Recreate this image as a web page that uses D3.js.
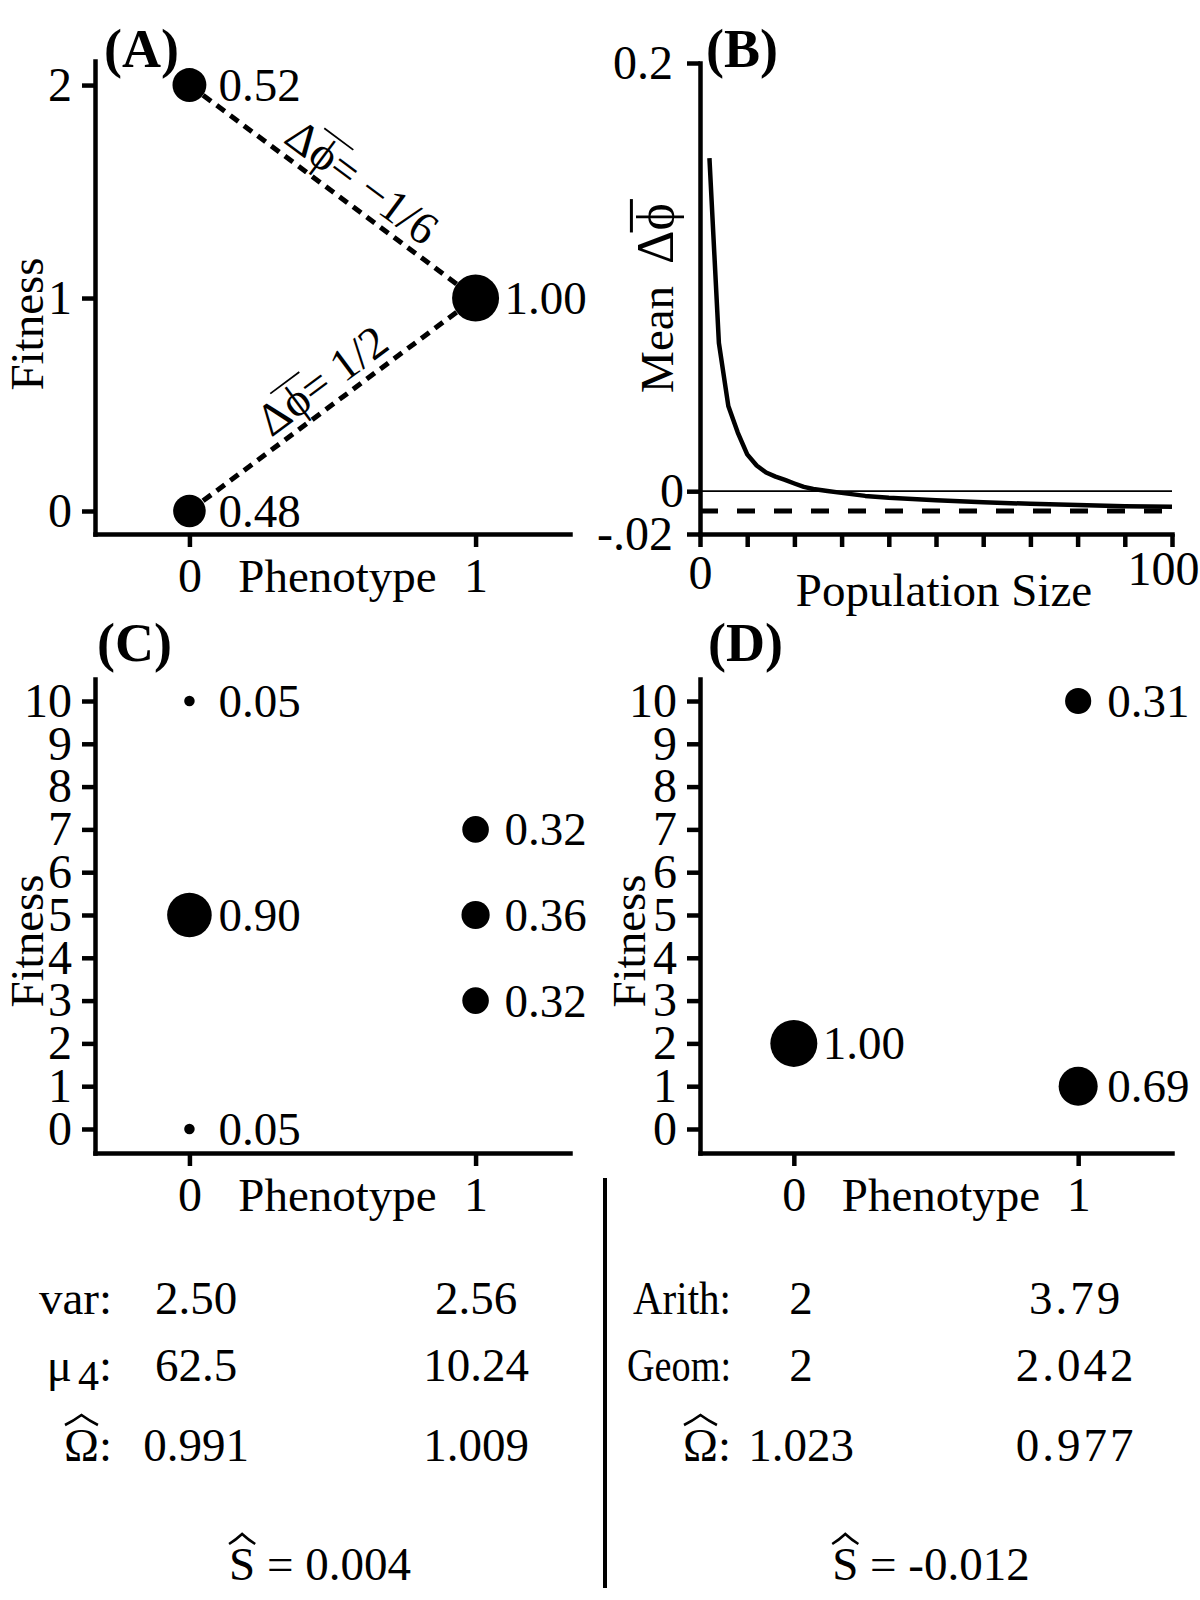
<!DOCTYPE html>
<html><head><meta charset="utf-8">
<script src="https://cdn.jsdelivr.net/npm/d3@7"></script>
<style>
body{margin:0;background:#fff}
svg text{font-family:"Liberation Serif","Times New Roman",serif;fill:#000}
</style></head><body>
<svg id="c" width="1200" height="1600" xmlns="http://www.w3.org/2000/svg"></svg>
<script>
// ---------------- DATA ----------------
const phenoTicks = [0, 1];
// Panel A
const aPhenotype = [0, 1, 0];
const aFitness = [2, 1, 0];
const aFreq = [0.52, 1.00, 0.48];
const aFreqLabels = ["0.52", "1.00", "0.48"];
const aSegFrom = [[0, 2], [0, 0]];
const aSegTo = [[1, 1], [1, 1]];
const aDeltaText = ["\u2212" + "1/6", "1/2"];
const aYTicks = [0, 1, 2];
// Panel B
const bPopSize = [2, 4, 6, 8, 10, 12, 14, 16, 18, 20, 22, 24, 27, 30, 35, 40, 50, 60, 70, 80, 90, 100];
const bMeanDelta = [0.1556, 0.0693, 0.0398, 0.0274, 0.0172, 0.0120, 0.0087, 0.0068, 0.0053, 0.0036, 0.0020, 0.0010, 0.0001, -0.0008, -0.0022, -0.0031, -0.0042, -0.0052, -0.0059, -0.0065, -0.0070, -0.0073];
const bExpected = -0.0092;
const bXTicks = [0, 10, 20, 30, 40, 50, 60, 70, 80, 90, 100];
const bXTickLabels = ["0", "", "", "", "", "", "", "", "", "", "100"];
const bYTicks = [-0.02, 0, 0.2];
const bYTickLabels = ["-.02", "0", "0.2"];
// Panel C
const cPhenotype = [0, 0, 0, 1, 1, 1];
const cFitness = [10, 5, 0, 7, 5, 3];
const cFreq = [0.05, 0.90, 0.05, 0.32, 0.36, 0.32];
const cFreqLabels = ["0.05", "0.90", "0.05", "0.32", "0.36", "0.32"];
// Panel D
const dPhenotype = [0, 1, 1];
const dFitness = [2, 10, 1];
const dFreq = [1.00, 0.31, 0.69];
const dFreqLabels = ["1.00", "0.31", "0.69"];
const fitTicks = [0, 1, 2, 3, 4, 5, 6, 7, 8, 9, 10];
// Bottom statistics
const cStatNames = ["var:", "\u03bc", "\u03a9"];
const cStat0 = ["2.50", "62.5", "0.991"];
const cStat1 = ["2.56", "10.24", "1.009"];
const cS = "0.004";
const dStatNames = ["Arith:", "Geom:", "\u03a9"];
const dStat0 = ["2", "2", "1.023"];
const dStat1 = ["3.79", "2.042", "0.977"];
const dS = "-0.012";

// ---------------- DRAW ----------------
const svg = d3.select("#c");
const FONT = '"Liberation Serif","Times New Roman",serif';
const TICKFS = 48, FS = 47;
const PHI = "\u03d5";
const size = d3.scaleSqrt().domain([0, 1]).range([0, 23.5]);

function styleAxis(g) {
  g.attr("font-family", FONT).attr("font-size", TICKFS);
  g.select(".domain").attr("stroke", "#000").attr("stroke-width", 4.5).attr("stroke-linecap", "square");
  g.selectAll(".tick line").attr("stroke", "#000").attr("stroke-width", 4.5);
  g.selectAll(".tick text").attr("fill", "#000");
}

function hat(g, x0, x1, b) {
  const xc = (x0 + x1) / 2;
  g.append("path")
    .attr("d", `M${x0},${b - 36} Q${(x0 + xc) / 2},${b - 40} ${xc},${b - 46} Q${(xc + x1) / 2},${b - 40} ${x1},${b - 36}`)
    .attr("fill", "none").attr("stroke", "#000").attr("stroke-width", 2.6);
}

function scatterPanel(o) {
  const g = svg.append("g");
  const x = d3.scaleLinear().domain([-0.33, 1.33]).range(o.xr);
  const y = d3.scaleLinear().domain(o.yd).range(o.yr);
  const yAx = g.append("g").attr("transform", `translate(${o.xr[0]},0)`)
    .call(d3.axisLeft(y).tickValues(o.yTicks).tickFormat(d3.format("d")).tickSize(13).tickSizeOuter(0).tickPadding(10));
  styleAxis(yAx);
  const xAx = g.append("g").attr("transform", `translate(0,${o.yr[0]})`)
    .call(d3.axisBottom(x).tickValues(phenoTicks).tickFormat(d3.format("d")).tickSize(13).tickSizeOuter(0).tickPadding(11));
  styleAxis(xAx);
  g.append("text").attr("x", (x(0) + x(1)) / 2 + 5).attr("y", o.yr[0] + 58)
    .attr("text-anchor", "middle").attr("font-size", FS).text("Phenotype");
  g.append("text").attr("transform", `translate(${o.fitX},${o.fitY}) rotate(-90)`)
    .attr("text-anchor", "middle").attr("font-size", FS).text("Fitness");
  g.append("text").attr("x", o.tagX).attr("y", o.tagY).attr("font-size", 54)
    .attr("font-weight", "bold").text(o.tag);
  return {g, x, y};
}

function drawPoints(p, ph, fit, freq, labels) {
  p.g.selectAll(null).data(ph).enter().append("circle")
    .attr("cx", (d) => p.x(d)).attr("cy", (d, i) => p.y(fit[i]))
    .attr("r", (d, i) => size(freq[i])).attr("fill", "#000");
  p.g.selectAll(null).data(ph).enter().append("text")
    .attr("x", (d) => p.x(d) + 29).attr("y", (d, i) => p.y(fit[i]) + 16)
    .attr("font-size", FS).text((d, i) => labels[i]);
}

// Panel A
const A = scatterPanel({xr: [95, 570], yr: [534, 61], yd: [-0.108, 2.113], yTicks: aYTicks,
  fitX: 43, fitY: 324, tag: "(A)", tagX: 104, tagY: 67});
aSegFrom.forEach((f, i) => {
  const t = aSegTo[i];
  const x0 = A.x(f[0]), y0 = A.y(f[1]), x1 = A.x(t[0]), y1 = A.y(t[1]);
  A.g.append("line").attr("x1", x0).attr("y1", y0).attr("x2", x1).attr("y2", y1)
    .attr("stroke", "#000").attr("stroke-width", 5).attr("stroke-dasharray", "10,7");
  const len = Math.hypot(x1 - x0, y1 - y0);
  const ux = (x1 - x0) / len, uy = (y1 - y0) / len;
  let nx = uy, ny = -ux;
  if (ny > 0) { nx = -nx; ny = -ny; }
  const along = len / 2 + (i === 0 ? 18 : 6);
  const off = 10;
  const cx = x0 + ux * along + nx * off, cy = y0 + uy * along + ny * off;
  const ang = Math.atan2(y1 - y0, x1 - x0) * 180 / Math.PI;
  const ag = A.g.append("g").attr("transform", `translate(${cx},${cy}) rotate(${ang})`);
  const fs = 46;
  const tx = ag.append("text").attr("text-anchor", "middle").attr("font-size", fs);
  tx.append("tspan").text("\u0394" + PHI);
  tx.append("tspan").text("= " + aDeltaText[i]);
  const e = tx.node().getExtentOfChar(1);
  ag.append("line").attr("x1", e.x - 4).attr("x2", e.x + e.width + 8)
    .attr("y1", -0.78 * fs).attr("y2", -0.78 * fs).attr("stroke", "#000").attr("stroke-width", 1.8);
});
drawPoints(A, aPhenotype, aFitness, aFreq, aFreqLabels);

// Panel B
(function () {
  const g = svg.append("g");
  const x = d3.scaleLinear().domain([0, 100]).range([700, 1172]);
  const y = d3.scaleLinear().domain([-0.02, 0.2]).range([534, 63]);
  const yAx = g.append("g").attr("transform", "translate(700,0)")
    .call(d3.axisLeft(y).tickValues(bYTicks).tickSize(13).tickSizeOuter(0).tickPadding(14)
      .tickFormat((d, i) => bYTickLabels[i]));
  styleAxis(yAx);
  yAx.selectAll(".tick text").filter((d) => d === 0).attr("dx", 11);
  const xAx = g.append("g").attr("transform", "translate(0,534)")
    .call(d3.axisBottom(x).tickValues(bXTicks).tickSize(13).tickSizeOuter(0).tickPadding(8)
      .tickFormat((d, i) => bXTickLabels[i]));
  styleAxis(xAx);
  xAx.selectAll(".tick text").filter((d) => d === 100).attr("dx", -9).attr("dy", "0.62em");
  g.append("line").attr("x1", 700).attr("x2", 1172).attr("y1", y(0)).attr("y2", y(0))
    .attr("stroke", "#000").attr("stroke-width", 1.8);
  g.append("line").attr("x1", 700).attr("x2", 1172).attr("y1", y(bExpected)).attr("y2", y(bExpected))
    .attr("stroke", "#000").attr("stroke-width", 5).attr("stroke-dasharray", "18,19");
  const line = d3.line().x((d, i) => x(bPopSize[i])).y((d) => y(d));
  g.append("path").attr("d", line(bMeanDelta)).attr("fill", "none")
    .attr("stroke", "#000").attr("stroke-width", 4.5).attr("stroke-linejoin", "round");
  g.append("text").attr("x", 944).attr("y", 606).attr("text-anchor", "middle")
    .attr("font-size", FS).text("Population Size");
  const lg = g.append("g").attr("transform", "translate(673,298) rotate(-90)");
  const lt = lg.append("text").attr("text-anchor", "middle").attr("font-size", FS);
  lt.append("tspan").text("Mean");
  lt.append("tspan").attr("dx", 22).attr("font-size", 52).text("\u0394" + PHI);
  const n = lt.node().getNumberOfChars();
  const e = lt.node().getExtentOfChar(n - 1);
  lg.append("line").attr("x1", e.x - 2).attr("x2", e.x + e.width + 4)
    .attr("y1", -0.8 * 52).attr("y2", -0.8 * 52).attr("stroke", "#000").attr("stroke-width", 3);
  g.append("text").attr("x", 706).attr("y", 67).attr("font-size", 54).attr("font-weight", "bold").text("(B)");
})();

// Panel C
const C = scatterPanel({xr: [95, 570], yr: [1153, 679], yd: [-0.561, 10.514], yTicks: fitTicks,
  fitX: 43, fitY: 941, tag: "(C)", tagX: 97, tagY: 661});
drawPoints(C, cPhenotype, cFitness, cFreq, cFreqLabels);

// Panel D
const D = scatterPanel({xr: [700, 1172], yr: [1153, 679], yd: [-0.561, 10.514], yTicks: fitTicks,
  fitX: 645, fitY: 941, tag: "(D)", tagX: 708, tagY: 661});
drawPoints(D, dPhenotype, dFitness, dFreq, dFreqLabels);

// Divider
svg.append("line").attr("x1", 605).attr("x2", 605).attr("y1", 1178).attr("y2", 1588)
  .attr("stroke", "#000").attr("stroke-width", 4);

// Bottom statistics
const rowY = [1314, 1381, 1461];
const st = svg.append("g").attr("font-size", FS);
function nameCell(name, xr, yb, fitLen) {
  const t = st.append("text").attr("x", xr).attr("y", yb).attr("text-anchor", "end");
  if (name === "\u03bc") {
    t.append("tspan").text("\u03bc");
    t.append("tspan").attr("font-size", 42).attr("dx", 6).attr("dy", 9).text("4");
    t.append("tspan").attr("dy", -9).text(":");
  } else if (name === "\u03a9") {
    t.append("tspan").text("\u03a9");
    t.append("tspan").text(":");
    const e = t.node().getExtentOfChar(0);
    hat(st, e.x + 1, e.x + e.width - 1, yb);
  } else {
    t.text(name);
    if (fitLen) t.attr("textLength", fitLen).attr("lengthAdjust", "spacingAndGlyphs");
  }
}
cStatNames.forEach((n, i) => {
  nameCell(n, 112, rowY[i], 0);
  st.append("text").attr("x", 196).attr("y", rowY[i]).attr("text-anchor", "middle").text(cStat0[i]);
  st.append("text").attr("x", 476).attr("y", rowY[i]).attr("text-anchor", "middle").text(cStat1[i]);
});
const dNameLen = [98, 104, 0];
dStatNames.forEach((n, i) => {
  nameCell(n, 731, rowY[i], dNameLen[i]);
  st.append("text").attr("x", 801).attr("y", rowY[i]).attr("text-anchor", "middle").text(dStat0[i]);
  st.append("text").attr("x", 1076).attr("y", rowY[i]).attr("text-anchor", "middle")
    .attr("letter-spacing", 3).text(dStat1[i]);
});
function sCell(val, xc) {
  const t = st.append("text").attr("x", xc).attr("y", 1580).attr("text-anchor", "middle")
    .text("S = " + val);
  const e = t.node().getExtentOfChar(0);
  hat(st, e.x, e.x + e.width, 1580);
}
sCell(cS, 320);
sCell(dS, 931);
</script>
</body></html>
